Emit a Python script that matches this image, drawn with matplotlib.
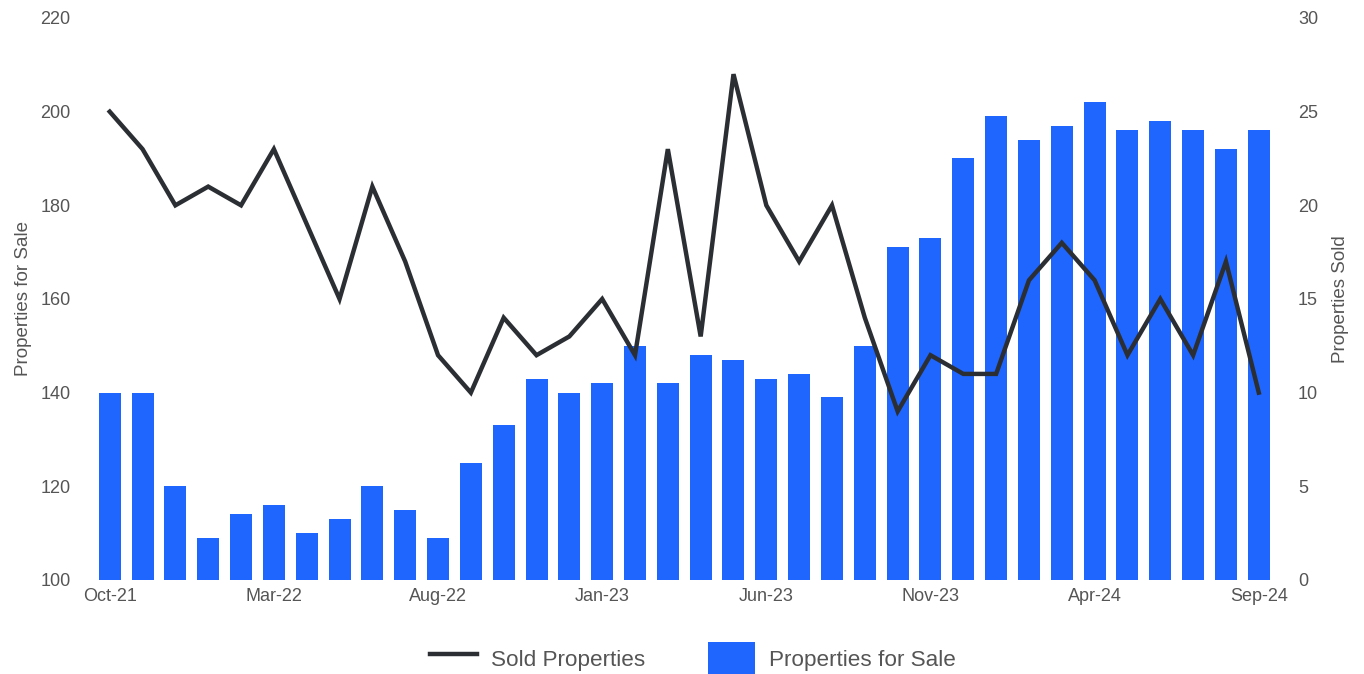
import numpy as np
import matplotlib
matplotlib.use("Agg")
from matplotlib import pyplot as plt
from matplotlib.patches import Patch
from matplotlib.lines import Line2D

plt.rcParams['font.family'] = ['Liberation Sans', 'DejaVu Sans']

months = ["Oct-21", "Nov-21", "Dec-21", "Jan-22", "Feb-22", "Mar-22",
          "Apr-22", "May-22", "Jun-22", "Jul-22", "Aug-22", "Sep-22",
          "Oct-22", "Nov-22", "Dec-22", "Jan-23", "Feb-23", "Mar-23",
          "Apr-23", "May-23", "Jun-23", "Jul-23", "Aug-23", "Sep-23",
          "Oct-23", "Nov-23", "Dec-23", "Jan-24", "Feb-24", "Mar-24",
          "Apr-24", "May-24", "Jun-24", "Jul-24", "Aug-24", "Sep-24"]

for_sale = [140, 140, 120, 109, 114, 116, 110, 113, 120, 115, 109, 125,
            133, 143, 140, 142, 150, 142, 148, 147, 143, 144, 139, 150,
            171, 173, 190, 199, 194, 197, 202, 196, 198, 196, 192, 196]

sold = [25, 23, 20, 21, 20, 23, 19, 15, 21, 17, 12, 10,
        14, 12, 13, 15, 12, 23, 13, 27, 20, 17, 20, 14,
        9, 12, 11, 11, 16, 18, 16, 12, 15, 12, 17, 10]

BLUE = "#1f66ff"
DARK = "#2b2f33"
GREY = "#555555"

fig = plt.figure(figsize=(13.64, 6.74), dpi=100)
ax = fig.add_axes([0.066, 0.1395, 0.8713, 0.8338])
ax2 = ax.twinx()

x = np.arange(len(months))
ax.bar(x, for_sale, width=0.67, color=BLUE, zorder=1)
ax2.plot(x, sold, color=DARK, linewidth=3.2, solid_joinstyle='miter', zorder=3)

ax.set_xlim(-0.6, len(months) - 0.4)
ax.set_ylim(100, 220)
ax.set_yticks(np.arange(100, 221, 20))
ax2.set_ylim(0, 30)
ax2.set_yticks(np.arange(0, 31, 5))

ticks = x[::5]
ax.set_xticks(ticks)
ax.set_xticklabels([months[i] for i in ticks])

for a in (ax, ax2):
    for s in a.spines.values():
        s.set_visible(False)
    a.tick_params(length=0, colors=GREY, labelsize=13)
ax.tick_params(axis='y', pad=14)
ax2.tick_params(axis='y', pad=14)
ax.tick_params(axis='x', pad=6)

ax.set_ylabel("Properties for Sale", color=GREY, fontsize=13.5, labelpad=6)
ax2.set_ylabel("Properties Sold", color=GREY, fontsize=13.5, labelpad=10)

handles = [Line2D([0], [0], color=DARK, linewidth=3.2),
           Patch(facecolor=BLUE)]
fig.legend(handles, ["Sold Properties", "Properties for Sale"],
           loc='lower center', bbox_to_anchor=(0.508, -0.032), ncol=2,
           frameon=False, fontsize=16.2, labelcolor=GREY,
           handlelength=2.1, handleheight=1.9, handletextpad=0.6,
           columnspacing=2.8)

fig.savefig("out.png", dpi=100)
